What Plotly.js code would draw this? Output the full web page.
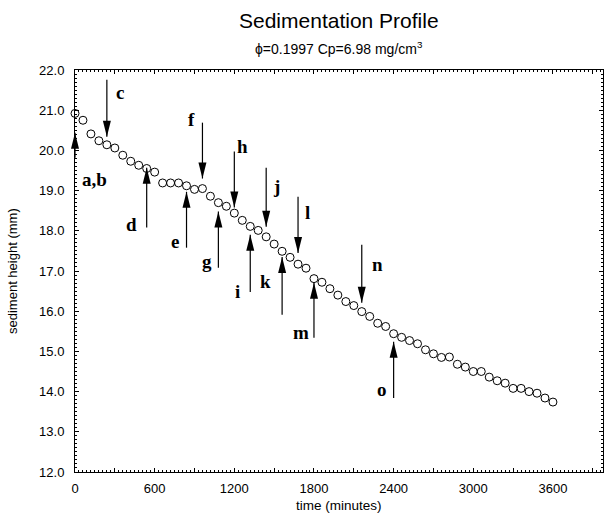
<!DOCTYPE html>
<html>
<head>
<meta charset="utf-8">
<script src="https://cdn.plot.ly/plotly-3.0.1.min.js"></script>
<style>html,body{margin:0;padding:0;background:#fff;}#chart{width:604px;height:517px;}</style>
</head>
<body>
<div id="chart"></div>
<script>
// time (minutes)
var times = [0,60,120,180,240,300,360,420,480,540,600,660,720,780,840,900,960,1020,1080,1140,1200,1260,1320,1380,1440,1500,1560,1620,1680,1740,1800,1860,1920,1980,2040,2100,2160,2220,2280,2340,2400,2460,2520,2580,2640,2700,2760,2820,2880,2940,3000,3060,3120,3180,3240,3300,3360,3420,3480,3540,3600];
// sediment height (mm)
var heights = [20.92,20.75,20.41,20.24,20.14,20.06,19.88,19.73,19.63,19.55,19.46,19.19,19.19,19.19,19.12,19.03,19.05,18.86,18.70,18.61,18.44,18.26,18.11,18.01,17.85,17.67,17.49,17.34,17.17,17.07,16.81,16.72,16.56,16.40,16.24,16.14,15.99,15.87,15.70,15.62,15.44,15.35,15.27,15.19,15.04,14.94,14.85,14.86,14.68,14.61,14.50,14.50,14.36,14.27,14.21,14.08,14.08,14.00,13.96,13.84,13.74];

// axis ticks
var xTickStep = 300;      // tick every 300 min, label every 600 min
var xMinorStep = 30;
var yTickStep = 1;
var yMinorStep = 0.1;

// event arrows: label, time, tip height, tail height, label time, label height
var arrowLabels = ['a,b','c','d','e','f','g','h','i','j','k','l','m','n','o'];
var arrowTimes  = [0,240,540,840,960,1080,1200,1320,1440,1560,1680,1800,2160,2400];
var arrowTips   = [20.44,20.34,19.57,18.97,19.30,18.48,18.58,17.90,18.10,17.35,17.45,16.71,16.21,15.24];
var arrowTails  = [19.82,21.76,18.08,17.58,20.69,17.08,19.97,16.48,19.57,15.91,18.85,15.34,17.65,13.84];
var labelTimes  = [147,336,426,750,879,991,1263,1225,1519,1436,1753,1700,2280,2310];
var labelValues = [19.27,21.44,18.15,17.73,20.77,17.23,20.09,16.48,19.10,16.73,18.45,15.46,17.16,14.04];

var trace = {
  x: times, y: heights, type: 'scatter', mode: 'markers',
  marker: {symbol: 'circle-open', size: 8, color: '#000', line: {width: 1, color: '#000'}},
  showlegend: false, hoverinfo: 'skip', cliponaxis: false
};

var shapes = [];
var annotations = [];
for (var i = 0; i < arrowLabels.length; i++) {
  shapes.push({type: 'line', xref: 'x', yref: 'y', x0: arrowTimes[i], x1: arrowTimes[i],
    y0: arrowTails[i], y1: arrowTips[i], line: {color: '#000', width: 1.2}});
  annotations.push({x: labelTimes[i], y: labelValues[i], xref: 'x', yref: 'y', showarrow: false,
    text: '<b>' + arrowLabels[i] + '</b>', font: {family: 'Liberation Serif', size: 19, color: '#000'}});
}

annotations.push({xref: 'paper', yref: 'paper', x: 0.5, y: 1, yanchor: 'middle', yshift: 50, showarrow: false,
  text: 'Sedimentation Profile', font: {family: 'Liberation Sans', size: 21, color: '#000'}});
annotations.push({xref: 'paper', yref: 'paper', x: 0.5, y: 1, yanchor: 'middle', yshift: 22, showarrow: false,
  text: 'ϕ=0.1997 Cp=6.98 mg/cm<sup>3</sup>', font: {family: 'Liberation Sans', size: 14, color: '#000'}});
annotations.push({xref: 'paper', yref: 'paper', x: 0.5, y: 0, yanchor: 'middle', yshift: -33, showarrow: false,
  text: 'time (minutes)', font: {family: 'Liberation Sans', size: 13.5, color: '#000'}});
annotations.push({xref: 'paper', yref: 'paper', x: 0, y: 0.5, xanchor: 'center', xshift: -63, textangle: -90, showarrow: false,
  text: 'sediment height (mm)', font: {family: 'Liberation Sans', size: 13, color: '#000'}});

var axisCommon = {
  showgrid: false, zeroline: false, showline: true, linecolor: '#000', linewidth: 1,
  mirror: 'ticks', ticks: 'inside', ticklen: 4, tickwidth: 1, tickcolor: '#000',
  tickfont: {family: 'Liberation Sans', size: 13, color: '#000'}
};

var layout = {
  width: 604, height: 517,
  margin: {l: 75, r: 1, t: 70, b: 45, pad: 0},
  paper_bgcolor: '#fff', plot_bgcolor: '#fff',
  xaxis: Object.assign({}, axisCommon, {
    range: [0, 3977], tickmode: 'linear', tick0: 0, dtick: xTickStep, ticklabelstep: 2,
    ticklabelstandoff: 4,
    minor: {dtick: xMinorStep, ticks: 'inside', ticklen: 2, tickwidth: 1, tickcolor: '#000', showgrid: false}
  }),
  yaxis: Object.assign({}, axisCommon, {
    range: [12, 22], tickmode: 'linear', tick0: 12, dtick: yTickStep, tickformat: '.1f',
    ticklabelstandoff: 7,
    minor: {dtick: yMinorStep, ticks: 'inside', ticklen: 2, tickwidth: 1, tickcolor: '#000', showgrid: false}
  }),
  shapes: shapes,
  annotations: annotations,
  showlegend: false
};

var gd = document.getElementById('chart');
Plotly.newPlot(gd, [trace], layout, {displayModeBar: false, staticPlot: true}).then(function () {
  // arrow heads: placed with the library's x scale, in paper units so they are not clipped at the axis
  var xa = gd._fullLayout.xaxis;
  var heads = [];
  var L = 16, W = 4;
  for (var i = 0; i < arrowLabels.length; i++) {
    var down = arrowTails[i] > arrowTips[i];
    var p = down ? ('M0,0 L' + (-W) + ',' + L + ' L' + W + ',' + L + ' Z')
                 : ('M0,0 L' + (-W) + ',' + (-L) + ' L' + W + ',' + (-L) + ' Z');
    heads.push({type: 'path', xref: 'paper', yref: 'y', xsizemode: 'pixel', ysizemode: 'pixel',
      xanchor: xa.d2p(arrowTimes[i]) / xa._length, yanchor: arrowTips[i], path: p,
      fillcolor: '#000', line: {width: 0}});
  }
  return Plotly.relayout(gd, {shapes: shapes.concat(heads)});
});
</script>
</body>
</html>
